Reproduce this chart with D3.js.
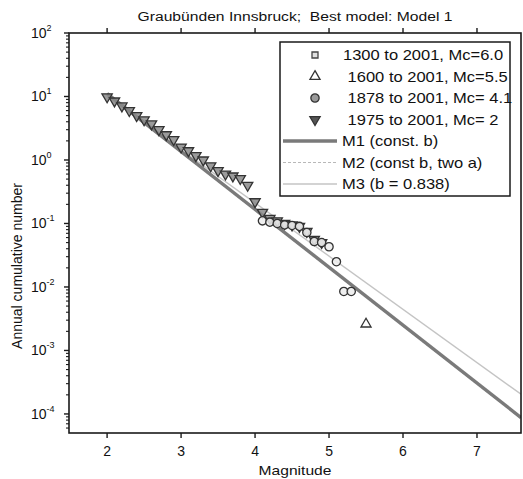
<!DOCTYPE html>
<html>
<head>
<meta charset="utf-8">
<script src="https://cdn.jsdelivr.net/npm/d3@7"></script>
<style>
  body { margin: 0; background: #fff; }
  text { font-family: "Liberation Sans", Arial, sans-serif; fill: #111; white-space: pre; }
</style>
</head>
<body>
<div id="chart"></div>
<script>
const width = 523, height = 479;
const margin = { top: 33, right: 2, bottom: 45, left: 69 };

// 1975 to 2001, Mc = 2 (inverted triangles)
const magRecent = [2.0, 2.1, 2.2, 2.3, 2.4, 2.5, 2.6, 2.7, 2.8, 2.9, 3.0, 3.1, 3.2, 3.3, 3.4, 3.5, 3.6, 3.7, 3.8, 3.9, 4.0, 4.1, 4.2, 4.3, 4.4, 4.5, 4.6, 4.7, 4.8, 4.9];
const rateRecent = [9.9, 8.5, 7.1, 6.0, 5.0, 4.3, 3.7, 3.0, 2.5, 2.1, 1.6, 1.4, 1.17, 1.0, 0.81, 0.68, 0.6, 0.56, 0.51, 0.40, 0.22, 0.15, 0.12, 0.11, 0.10, 0.095, 0.09, 0.075, 0.056, 0.05];

// 1878 to 2001, Mc = 4.1 (circles)
const mag1878 = [4.1, 4.2, 4.3, 4.4, 4.5, 4.6, 4.7, 4.8, 4.9, 5.0, 5.1, 5.2, 5.3];
const rate1878 = [0.11, 0.105, 0.10, 0.095, 0.093, 0.09, 0.072, 0.052, 0.05, 0.043, 0.025, 0.0085, 0.0085];

// 1600 to 2001, Mc = 5.5 (triangles)
const mag1600 = [5.5];
const rate1600 = [0.0026];

// 1300 to 2001, Mc = 6.0 (squares) - nothing visible in the plot
const mag1300 = [];
const rate1300 = [];

// fitted models, log10 N = a - b M
const modelNames = ['M1 (const. b)', 'M2 (const b, two a)', 'M3 (b = 0.838)'];
const modelA = [2.87, 2.85, 2.676];
const modelB = [0.912, 0.912, 0.838];

const seriesNames = ['1300 to 2001, Mc=6.0', ' 1600 to 2001, Mc=5.5', ' 1878 to 2001, Mc= 4.1', ' 1975 to 2001, Mc= 2'];
const xTicks = [2, 3, 4, 5, 6, 7];
const yExponents = [-4, -3, -2, -1, 0, 1, 2];

const svg = d3.select('#chart')
  .append('svg')
    .attr('width', width)
    .attr('height', height);

const x = d3.scaleLinear()
  .domain([1.485, 7.595])
  .range([margin.left, width - margin.right]);

const y = d3.scaleLog()
  .domain([Math.pow(10, -4.3), 100])
  .range([height - margin.bottom - 1, margin.top]);

// horizontally widened text, the original lettering is broad
const wide = (sel, sx) => sel.attr('transform', function () {
  const tx = +d3.select(this).attr('x'), ty = +d3.select(this).attr('y');
  d3.select(this).attr('x', 0).attr('y', 0);
  return `translate(${tx},${ty}) scale(${sx},1)`;
});

svg.append('clipPath').attr('id', 'plot-clip')
  .append('rect')
    .attr('x', x.range()[0])
    .attr('y', y.range()[1])
    .attr('width', x.range()[1] - x.range()[0])
    .attr('height', y.range()[0] - y.range()[1]);

// model lines
const lineStyles = [
  { stroke: '#7a7a7a', width: 3.4, dash: null },
  { stroke: '#b8b8b8', width: 1, dash: '3,2' },
  { stroke: '#c4c4c4', width: 1.4, dash: null }
];
const xEnd = x.domain()[1];
const lines = svg.append('g').attr('clip-path', 'url(#plot-clip)');
[2, 1, 0].forEach(i => {
  const pts = [2, xEnd].map(m => [m, Math.pow(10, modelA[i] - modelB[i] * m)]);
  lines.append('path')
    .datum(pts)
    .attr('fill', 'none')
    .attr('stroke', lineStyles[i].stroke)
    .attr('stroke-width', lineStyles[i].width)
    .attr('stroke-dasharray', lineStyles[i].dash)
    .attr('d', d3.line().x(d => x(d[0])).y(d => y(d[1])));
});

// markers
const symTriDown = d3.symbol().type(d3.symbolTriangle).size(46);
const symTriUp = d3.symbol().type(d3.symbolTriangle).size(44);
const symCircle = d3.symbol().type(d3.symbolCircle).size(54);
const symSquare = d3.symbol().type(d3.symbolSquare).size(36);

const markerStyles = [
  { sym: symSquare, fill: '#e6e6e6', stroke: '#444', rot: 0 },
  { sym: symTriUp, fill: '#fff', stroke: '#333', rot: 0 },
  { sym: symCircle, fill: '#ececec', stroke: '#333', rot: 0 },
  { sym: symTriDown, fill: '#8a8a8a', stroke: '#333', rot: 180 }
];
const legendMarkerFill = ['#e0e0e0', '#fff', '#9a9a9a', '#555'];

const seriesMags = [mag1300, mag1600, mag1878, magRecent];
const seriesRates = [rate1300, rate1600, rate1878, rateRecent];

const points = svg.append('g').attr('clip-path', 'url(#plot-clip)');
[3, 2, 1, 0].forEach(s => {
  const st = markerStyles[s];
  points.selectAll(null)
    .data(seriesMags[s].map((m, i) => [m, seriesRates[s][i]]))
    .enter().append('path')
      .attr('transform', d => `translate(${x(d[0])},${y(d[1])}) rotate(${st.rot})`)
      .attr('d', st.sym)
      .attr('fill', st.fill)
      .attr('fill-opacity', 0.85)
      .attr('stroke', st.stroke)
      .attr('stroke-width', 1.3);
});

// frame
svg.append('rect')
  .attr('x', x.range()[0])
  .attr('y', y.range()[1])
  .attr('width', x.range()[1] - x.range()[0])
  .attr('height', y.range()[0] - y.range()[1])
  .attr('fill', 'none')
  .attr('stroke', '#1a1a1a')
  .attr('stroke-width', 1.6);

// x ticks, outward at bottom and top
const x0 = x.range()[0], yB = y.range()[0], yT = y.range()[1];
const ticksG = svg.append('g').attr('stroke', '#1a1a1a').attr('stroke-width', 1.4);
xTicks.forEach(t => {
  ticksG.append('line').attr('x1', x(t)).attr('x2', x(t)).attr('y1', yB).attr('y2', yB + 5);
  ticksG.append('line').attr('x1', x(t)).attr('x2', x(t)).attr('y1', yT).attr('y2', yT - 5);
});
svg.append('g').selectAll('text')
  .data(xTicks)
  .enter().append('text')
    .attr('x', d => x(d))
    .attr('y', yB + 23)
    .attr('text-anchor', 'middle')
    .attr('font-size', 14)
    .text(d => d);

// y ticks, log major and minor
yExponents.forEach(e => {
  ticksG.append('line').attr('x1', x0 - 5).attr('x2', x0).attr('y1', y(Math.pow(10, e))).attr('y2', y(Math.pow(10, e)));
});
for (let e = -5; e < 2; e++) {
  for (let k = 2; k <= 9; k++) {
    const v = k * Math.pow(10, e);
    if (v < y.domain()[0] || v > y.domain()[1]) continue;
    ticksG.append('line')
      .attr('x1', x0 - 3).attr('x2', x0)
      .attr('y1', y(v)).attr('y2', y(v))
      .attr('stroke-width', 1.1);
  }
}
const yLab = svg.append('g').selectAll('text')
  .data(yExponents)
  .enter().append('text')
    .attr('x', 31)
    .attr('y', d => y(Math.pow(10, d)) + 5)
    .attr('font-size', 14)
    .text('10');
yLab.append('tspan')
  .attr('dy', -7)
  .attr('font-size', 9)
  .text(d => String(d));

// axis titles
svg.append('text')
  .attr('x', (x.range()[0] + x.range()[1]) / 2)
  .attr('y', 475)
  .attr('text-anchor', 'middle')
  .attr('font-size', 13)
  .text('Magnitude')
  .call(wide, 1.2);

svg.append('text')
  .attr('transform', `translate(22,266) rotate(-90)`)
  .attr('text-anchor', 'middle')
  .attr('font-size', 14)
  .text('Annual cumulative number');

svg.append('text')
  .attr('x', 295)
  .attr('y', 21)
  .attr('text-anchor', 'middle')
  .attr('font-size', 13.5)
  .text('Graubünden Innsbruck;  Best model: Model 1')
  .call(wide, 1.16);

// legend
const legend = svg.append('g');
legend.append('rect')
  .attr('x', 280).attr('y', 42)
  .attr('width', 230).attr('height', 154)
  .attr('fill', '#fff')
  .attr('stroke', '#1a1a1a')
  .attr('stroke-width', 1.5);

const rowY = i => 55 + i * 21.5;
seriesNames.forEach((name, i) => {
  const st = markerStyles[i];
  legend.append('path')
    .attr('transform', `translate(315,${rowY(i)}) rotate(${st.rot})`)
    .attr('d', st.sym)
    .attr('fill', legendMarkerFill[i])
    .attr('stroke', st.stroke)
    .attr('stroke-width', 1.3);
  legend.append('text')
    .attr('x', 343)
    .attr('y', rowY(i) + 5)
    .attr('font-size', 14)
    .text(name)
    .call(wide, 1.18);
});
modelNames.forEach((name, i) => {
  const yy = rowY(i + 4);
  legend.append('line')
    .attr('x1', 283).attr('x2', 337)
    .attr('y1', yy).attr('y2', yy)
    .attr('stroke', lineStyles[i].stroke)
    .attr('stroke-width', lineStyles[i].width)
    .attr('stroke-dasharray', lineStyles[i].dash);
  legend.append('text')
    .attr('x', 342)
    .attr('y', yy + 5)
    .attr('font-size', 14)
    .text(name)
    .call(wide, 1.18);
});
</script>
</body>
</html>
